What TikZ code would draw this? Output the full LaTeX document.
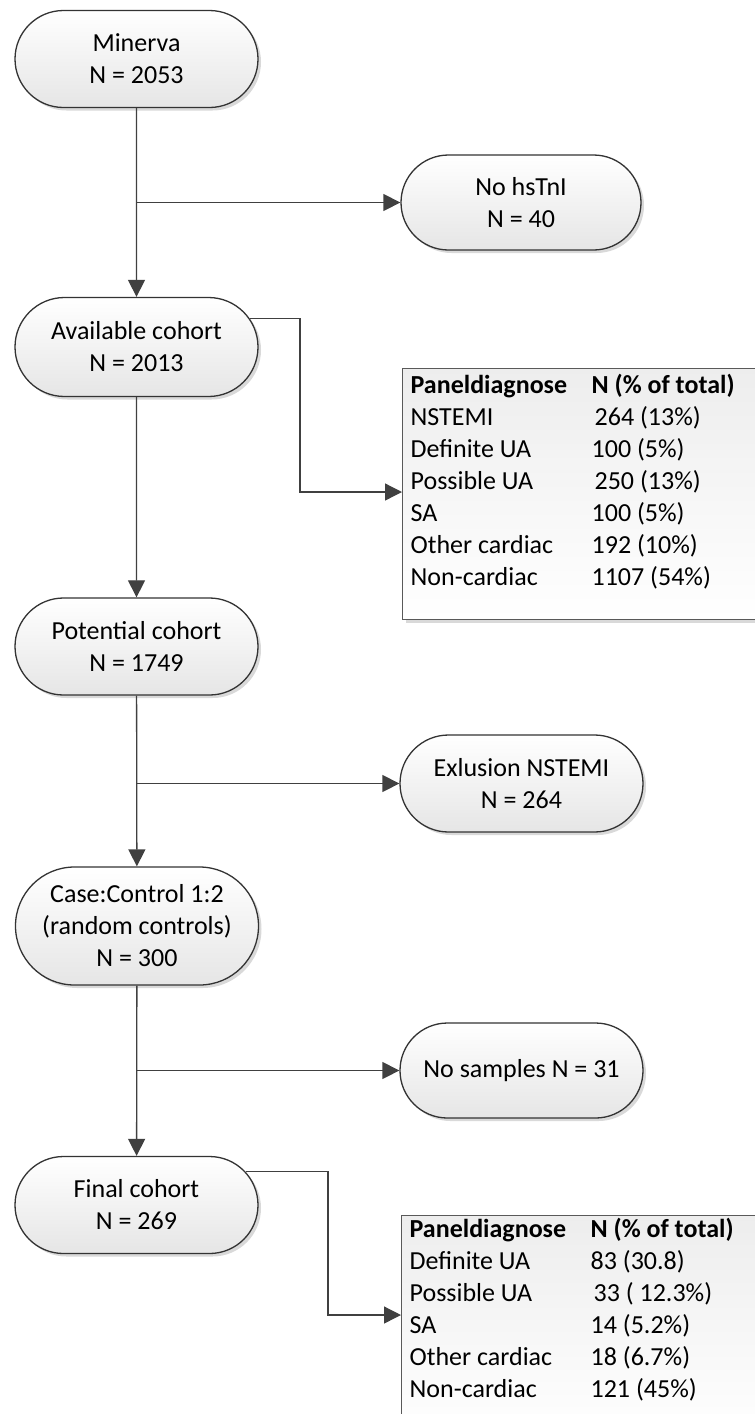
\documentclass[tikz,border=0pt]{standalone}
\usepackage{fontspec}
\setmainfont{Carlito}
\usetikzlibrary{shapes.misc,arrows.meta,shadows,calc}
\newcommand\prow[2]{\makebox[181pt][l]{#1}#2}
\begin{document}
\begin{tikzpicture}[x=1pt,y=-1pt,
  every node/.style={font=\fontsize{26}{32}\selectfont, text=black,
    execute at begin node={\spaceskip=0pt \xspaceskip=0pt}},
  stad/.style={rounded rectangle, draw=black!80, line width=1.3pt,
    top color=white, bottom color=black!10,
    minimum width=243pt, minimum height=97pt, align=center, inner sep=0pt,
    drop shadow={opacity=0.3, shadow xshift=3pt, shadow yshift=-3pt}},
  panel/.style={rectangle, draw=black!65, line width=1.3pt,
    top color=black!7, bottom color=white, anchor=north west,
    text width=342pt, inner xsep=8pt, inner ysep=0pt, align=left,
    drop shadow={opacity=0.3, shadow xshift=3pt, shadow yshift=-3pt}},
  conn/.style={draw=black!75, line width=1.3pt},
  arr/.style={conn, -{Triangle[length=17pt,width=17pt]}}
]
\useasboundingbox (0,0) rectangle (755,1414);

\node[stad] (minerva) at (136.5,59) {Minerva\\N = 2053};
\node[stad, minimum width=240pt, minimum height=95pt] (nohs) at (521,202.5) {No hsTnI\\N = 40};
\node[stad, minimum height=99pt] (avail) at (136.5,347) {Available cohort\\N = 2013};
\node[panel] (p1) at (402,368) {%
\rule{0pt}{25pt}\textbf{\prow{Paneldiagnose}{N (\% of total)}}\\
\prow{NSTEMI}{\hspace{3pt}264 (13\%)}\\
\prow{Definite UA}{100 (5\%)}\\
\prow{Possible UA}{\hspace{3pt}250 (13\%)}\\
\prow{SA}{100 (5\%)}\\
\prow{Other cardiac}{192 (10\%)}\\
\prow{Non-cardiac}{1107 (54\%)}\rule[-34pt]{0pt}{34pt}};
\node[stad] (pot) at (136.5,646.5) {Potential cohort\\N = 1749};
\node[stad] (exl) at (521.5,783.5) {Exlusion NSTEMI\\N = 264};
\node[stad, minimum height=118pt] (case) at (137,926) {Case:Control 1:2\\(random controls)\\N = 300};
\node[stad, minimum height=95pt] (nos) at (521.5,1070.5) {No samples N = 31};
\node[stad] (final) at (136.5,1205) {Final cohort\\N = 269};
\node[panel] (p2) at (401,1215) {%
\rule{0pt}{22pt}\textbf{\prow{Paneldiagnose}{N (\% of total)}}\\
\prow{Definite UA}{83 (30.8)}\\
\prow{Possible UA}{\hspace{3pt}33 ( 12.3\%)}\\
\prow{SA}{14 (5.2\%)}\\
\prow{Other cardiac}{18 (6.7\%)}\\
\prow{Non-cardiac}{121 (45\%)}\rule[-40pt]{0pt}{40pt}};

\coordinate (b1) at (minerva.south |- nohs.west);
\coordinate (b2) at (pot.south |- exl.west);
\coordinate (b3) at (case.south |- nos.west);
\coordinate (k1) at (300,492);
\coordinate (k2) at (328,1315);

\draw[arr] (minerva) -- (avail);
\draw[arr] (b1) -- (nohs);
\draw[arr] (avail) -- (pot);
\draw[arr] (pot) -- (case);
\draw[arr] (b2) -- (exl);
\draw[arr] (case) -- (final);
\draw[arr] (b3) -- (nos);
\draw[arr] (avail.14) -| (k1) -- (k1 -| p1.west);
\draw[arr] (final.17) -| (k2) -- (k2 -| p2.west);
\end{tikzpicture}
\end{document}
